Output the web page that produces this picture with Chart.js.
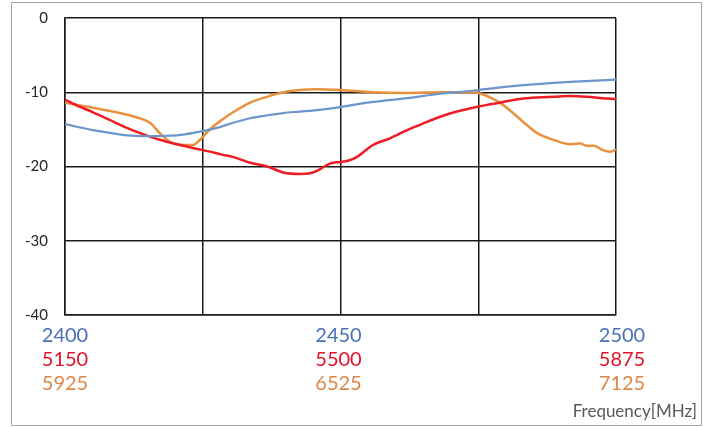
<!DOCTYPE html>
<html>
<head>
<meta charset="utf-8">
<script src="https://cdn.jsdelivr.net/npm/chart.js@4.4.1/dist/chart.umd.min.js"></script>
<style>
    html, body { margin: 0; padding: 0; background: #fff; }
    #wrap { position: relative; width: 705px; height: 427px; }
    #frame { position: absolute; left: 11px; top: 2px; width: 689px; height: 422px; border: 1px solid #a6a6a6; pointer-events: none; }
</style>
</head>
<body>
<div id="wrap">
    <canvas id="chart" width="705" height="427"></canvas>
    <div id="frame"></div>
</div>
<script>
// x は 0..100 の相対位置（各バンドの下限〜上限）
const blueX = [0, 5.1, 11.3, 14.9, 20.3, 24.5, 27.6, 30.5, 33.6, 36.7, 39.6, 42.6, 45.7, 49.9, 55.9, 62.1, 68.1, 74.0, 79.5, 85.7, 91.7, 100];
const blueY = [-14.3, -15.1, -15.8, -15.9, -15.8, -15.3, -14.8, -14.1, -13.5, -13.1, -12.8, -12.6, -12.4, -12.0, -11.3, -10.8, -10.2, -9.8, -9.3, -8.9, -8.6, -8.3];

const redX = [0, 2.5, 5.1, 8.0, 11.2, 14.0, 17.2, 20.3, 23.2, 26.3, 28.5, 30.5, 33.6, 36.7, 39.6, 42.6, 44.5, 45.7, 47.5, 48.6, 49.9, 51.5, 53.0, 55.9, 59.0, 62.1, 65.0, 68.1, 71.1, 74.0, 76.6, 79.5, 82.6, 85.7, 88.7, 91.7, 94.7, 97.6, 100];
const redY = [-11.0, -11.9, -12.7, -13.7, -14.8, -15.6, -16.4, -17.0, -17.5, -18.0, -18.4, -18.7, -19.5, -20.0, -20.8, -21.0, -20.9, -20.6, -19.8, -19.5, -19.4, -19.2, -18.7, -17.1, -16.2, -15.1, -14.2, -13.3, -12.6, -12.1, -11.7, -11.3, -10.9, -10.7, -10.6, -10.5, -10.6, -10.8, -10.9];

const orangeX = [0, 5.1, 9.4, 13.1, 15.4, 17.2, 19.1, 21.4, 23.2, 24.5, 26.3, 28.5, 30.5, 33.6, 36.7, 39.6, 42.6, 45.7, 49.9, 55.9, 62.1, 68.1, 74.0, 75.9, 77.7, 79.5, 81.3, 83.8, 85.7, 88.6, 91.7, 93.5, 94.7, 96.0, 97.6, 99.0, 100];
const orangeY = [-11.4, -12.1, -12.7, -13.4, -14.1, -15.5, -16.7, -17.1, -17.1, -16.4, -15.0, -13.7, -12.7, -11.4, -10.6, -10.0, -9.7, -9.6, -9.7, -10.0, -10.1, -10.0, -10.0, -10.3, -10.9, -11.7, -12.8, -14.4, -15.5, -16.4, -17.0, -16.9, -17.2, -17.2, -17.8, -18.0, -17.7];

// 下側の3段ラベル
const tickPos = [0, 50, 100];
const blueTicks = ['2400', '2450', '2500'];
const redTicks = ['5150', '5500', '5875'];
const orangeTicks = ['5925', '6525', '7125'];
const yTicks = [0, -10, -20, -30, -40];

const toPoints = (xs, ys) => xs.map((x, i) => ({ x, y: ys[i] }));

// 色付き x ラベルと単位
const bandLabels = {
    id: 'bandLabels',
    afterDraw(chart) {
        const ctx = chart.ctx;
        const xs = chart.scales.x;
        const rows = [
            { texts: blueTicks, color: '#4a70b8', y: 336 },
            { texts: redTicks, color: '#e3122a', y: 360 },
            { texts: orangeTicks, color: '#dc8748', y: 384 }
        ];
        ctx.save();
        ctx.font = '20px Lato';
        ctx.textAlign = 'center';
        ctx.textBaseline = 'middle';
        rows.forEach(r => {
            ctx.fillStyle = r.color;
            r.texts.forEach((t, i) => {
                let px = xs.getPixelForValue(tickPos[i]);
                if (i === tickPos.length - 1) px += 6;
                if (i === 1) px -= 2;
                ctx.fillText(t, px, r.y);
            });
        });
        ctx.font = '17px Lato';
        ctx.fillStyle = '#595959';
        ctx.textAlign = 'right';
        ctx.fillText('Frequency[MHz]', 697, 412);
        ctx.restore();
    }
};

const ctx = document.getElementById('chart').getContext('2d');
new Chart(ctx, {
    type: 'line',
    data: {
        datasets: [
            { label: '2.4G', data: toPoints(blueX, blueY), borderColor: '#6c96cb', borderWidth: 2.2 },
            { label: '5G', data: toPoints(redX, redY), borderColor: '#ee1c25', borderWidth: 2.5 },
            { label: '6G', data: toPoints(orangeX, orangeY), borderColor: '#e8913f', borderWidth: 2.5 }
        ]
    },
    options: {
        responsive: false,
        animation: false,
        parsing: false,
        elements: { point: { radius: 0 }, line: { cubicInterpolationMode: 'monotone' } },
        layout: { padding: { left: 0, top: 18, right: 89, bottom: 0 } },
        plugins: { legend: { display: false }, tooltip: { enabled: false } },
        scales: {
            x: {
                type: 'linear',
                min: 0,
                max: 100,
                ticks: { stepSize: 25, display: false },
                grid: { color: '#1a1a1a', lineWidth: 1.5, drawTicks: false },
                border: { color: '#1a1a1a', width: 1.5 },
                afterFit: s => { s.height = 112; s.paddingLeft = 0; s.paddingRight = 0; }
            },
            y: {
                min: -40,
                max: 0,
                afterBuildTicks: s => { s.ticks = yTicks.map(v => ({ value: v })); },
                ticks: { padding: 17, color: '#262626', font: { family: 'Lato', size: 15 } },
                grid: { color: '#1a1a1a', lineWidth: 1.5, drawTicks: false },
                border: { color: '#1a1a1a', width: 1.5 },
                afterFit: s => { s.width = 65; s.paddingTop = 0; s.paddingBottom = 0; }
            }
        }
    },
    plugins: [bandLabels]
});
</script>
</body>
</html>
